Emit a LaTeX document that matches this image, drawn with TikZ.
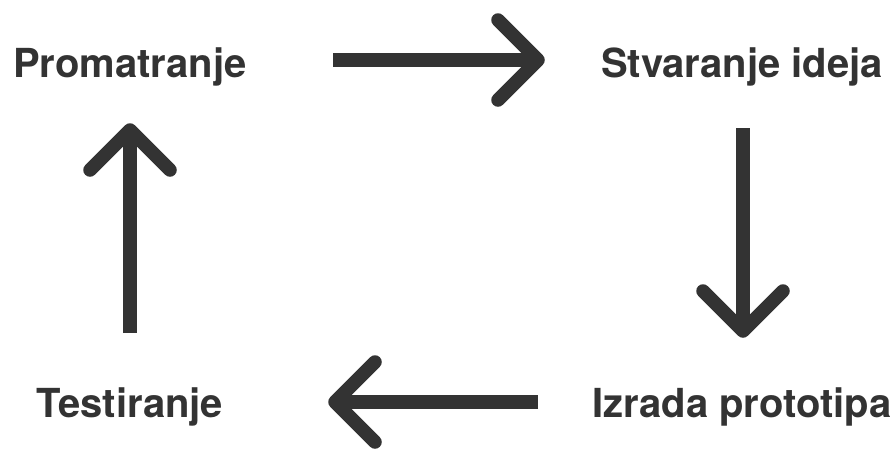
\documentclass[tikz,border=0pt]{standalone}
\usepackage{fontspec}
\setmainfont{TeX Gyre Heros}
\usetikzlibrary{positioning}
\definecolor{ink}{HTML}{333333}

\begin{document}
\begin{tikzpicture}[x=1pt, y=-1pt, node distance=612pt,
    main/.style = {font=\bfseries\fontsize{40}{48}\selectfont, text=ink, inner sep=0pt, text height=30pt, text depth=9pt},
    shaft/.style = {draw=ink, line width=13.5pt},
    barb/.style = {draw=ink, line width=13.5pt, line cap=round}]
        \useasboundingbox (0,0) rectangle (895,450);
        \node[main] (prom) at (130,66.5) {Promatranje};
        \node[main] (ideja) [right of=prom] {Stvaranje ideja};
        \node[main, node distance=340pt] (proto) [below of=ideja] {Izrada prototipa};
        \node[main] (test) [left of=proto] {Testiranje};
        %
        \coordinate (a1) at (333,60);  \coordinate (b1) at (538,60);
        \coordinate (a2) at (743,128); \coordinate (b2) at (743,331);
        \coordinate (a3) at (538,402); \coordinate (b3) at (335,402);
        \coordinate (a4) at (130,333); \coordinate (b4) at (130,130);
        %
        \draw[shaft] (a1) -- (b1);
        \draw[barb] (b1) -- ++(-40,-40) (b1) -- ++(-40,40);
        \draw[shaft] (a2) -- (b2);
        \draw[barb] (b2) -- ++(-40,-40) (b2) -- ++(40,-40);
        \draw[shaft] (a3) -- (b3);
        \draw[barb] (b3) -- ++(40,-40) (b3) -- ++(40,40);
        \draw[shaft] (a4) -- (b4);
        \draw[barb] (b4) -- ++(-40,40) (b4) -- ++(40,40);
      \end{tikzpicture}
\end{document}
